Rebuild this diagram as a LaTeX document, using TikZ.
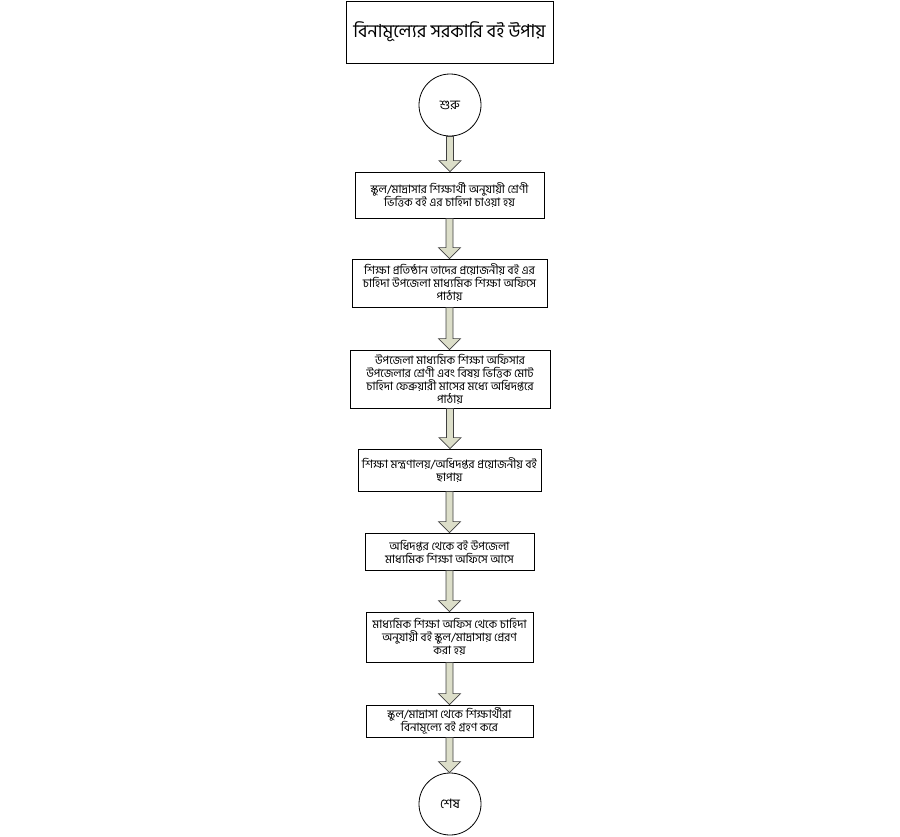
\documentclass[tikz,border=0pt]{standalone}
\usepackage{fontspec}
\newfontfamily\bnfont[Script=Bengali]{Hind Siliguri}
\usetikzlibrary{calc}
\definecolor{arrowfill}{HTML}{DCDEC9}
\definecolor{arrowline}{HTML}{404040}
\tikzset{
  stepbox/.style={draw, line width=0.8pt, align=center, inner sep=2pt,
    font=\bnfont\fontsize{11.6}{13}\selectfont},
  endpoint/.style={draw, line width=0.8pt, circle, minimum size=62pt, inner sep=0pt,
    font=\bnfont\fontsize{13}{15}\selectfont},
  blockarrow/.style={draw=arrowline, fill=arrowfill, line width=0.7pt,
    to path={let \p1=(\tikztostart), \p2=(\tikztotarget) in
      (\x1-3.5pt,\y1) -- (\x1-3.5pt,\y2+11pt) -- (\x1-11pt,\y2+11pt) -- (\x1,\y2)
      -- (\x1+11pt,\y2+11pt) -- (\x1+3.5pt,\y2+11pt) -- (\x1+3.5pt,\y1) -- cycle \tikztonodes}}
}
\begin{document}
\begin{tikzpicture}[x=1pt, y=-1pt]
    \useasboundingbox (0, 0) rectangle (900, 836);
    \node [stepbox, minimum width=207pt, minimum height=62pt, font=\bnfont\fontsize{18}{21}\selectfont] (t) at (449.5, 32) {বিনামূল্যের সরকারি বই উপায়};
    \node [endpoint] (s) at (450, 105) {শুরু};
    \node [stepbox, minimum width=189pt, minimum height=46pt] (a) at (449.5, 195) {স্কুল/মাদ্রাসার শিক্ষার্থী অনুযায়ী শ্রেণী\\ভিত্তিক বই এর চাহিদা চাওয়া হয়};
    \node [stepbox, minimum width=195pt, minimum height=48pt] (b) at (449.5, 283) {শিক্ষা প্রতিষ্ঠান তাদের প্রয়োজনীয় বই এর\\চাহিদা উপজেলা মাধ্যমিক শিক্ষা অফিসে\\পাঠায়};
    \node [stepbox, minimum width=200pt, minimum height=58pt] (c) at (450, 379) {উপজেলা মাধ্যমিক শিক্ষা অফিসার\\উপজেলার শ্রেণী এবং বিষয় ভিত্তিক মোট\\চাহিদা ফেব্রুয়ারী মাসের মধ্যে অধিদপ্তরে\\পাঠায়};
    \node [stepbox, minimum width=183pt, minimum height=42pt] (d) at (449.5, 470) {শিক্ষা মন্ত্রণালয়/অধিদপ্তর প্রয়োজনীয় বই\\ছাপায়};
    \node [stepbox, minimum width=169pt, minimum height=37pt] (e) at (449.5, 551.5) {অধিদপ্তর থেকে বই উপজেলা\\মাধ্যমিক শিক্ষা অফিসে আসে};
    \node [stepbox, minimum width=167pt, minimum height=50pt] (f) at (449.5, 637) {মাধ্যমিক শিক্ষা অফিস থেকে চাহিদা\\অনুযায়ী বই স্কুল/মাদ্রাসায় প্রেরণ\\করা হয়};
    \node [stepbox, minimum width=167pt, minimum height=32pt] (g) at (449.5, 721) {স্কুল/মাদ্রাসা থেকে শিক্ষার্থীরা\\বিনামূল্যে বই গ্রহণ করে};
    \node [endpoint] (z) at (450, 804) {শেষ};
    \draw [blockarrow] (s.south) to (a.north);
    \draw [blockarrow] (a.south) to (b.north);
    \draw [blockarrow] (b.south) to (c.north);
    \draw [blockarrow] (c.south) to (d.north);
    \draw [blockarrow] (d.south) to (e.north);
    \draw [blockarrow] (e.south) to (f.north);
    \draw [blockarrow] (f.south) to (g.north);
    \draw [blockarrow] (g.south) to (z.north);
  \end{tikzpicture}
\end{document}
